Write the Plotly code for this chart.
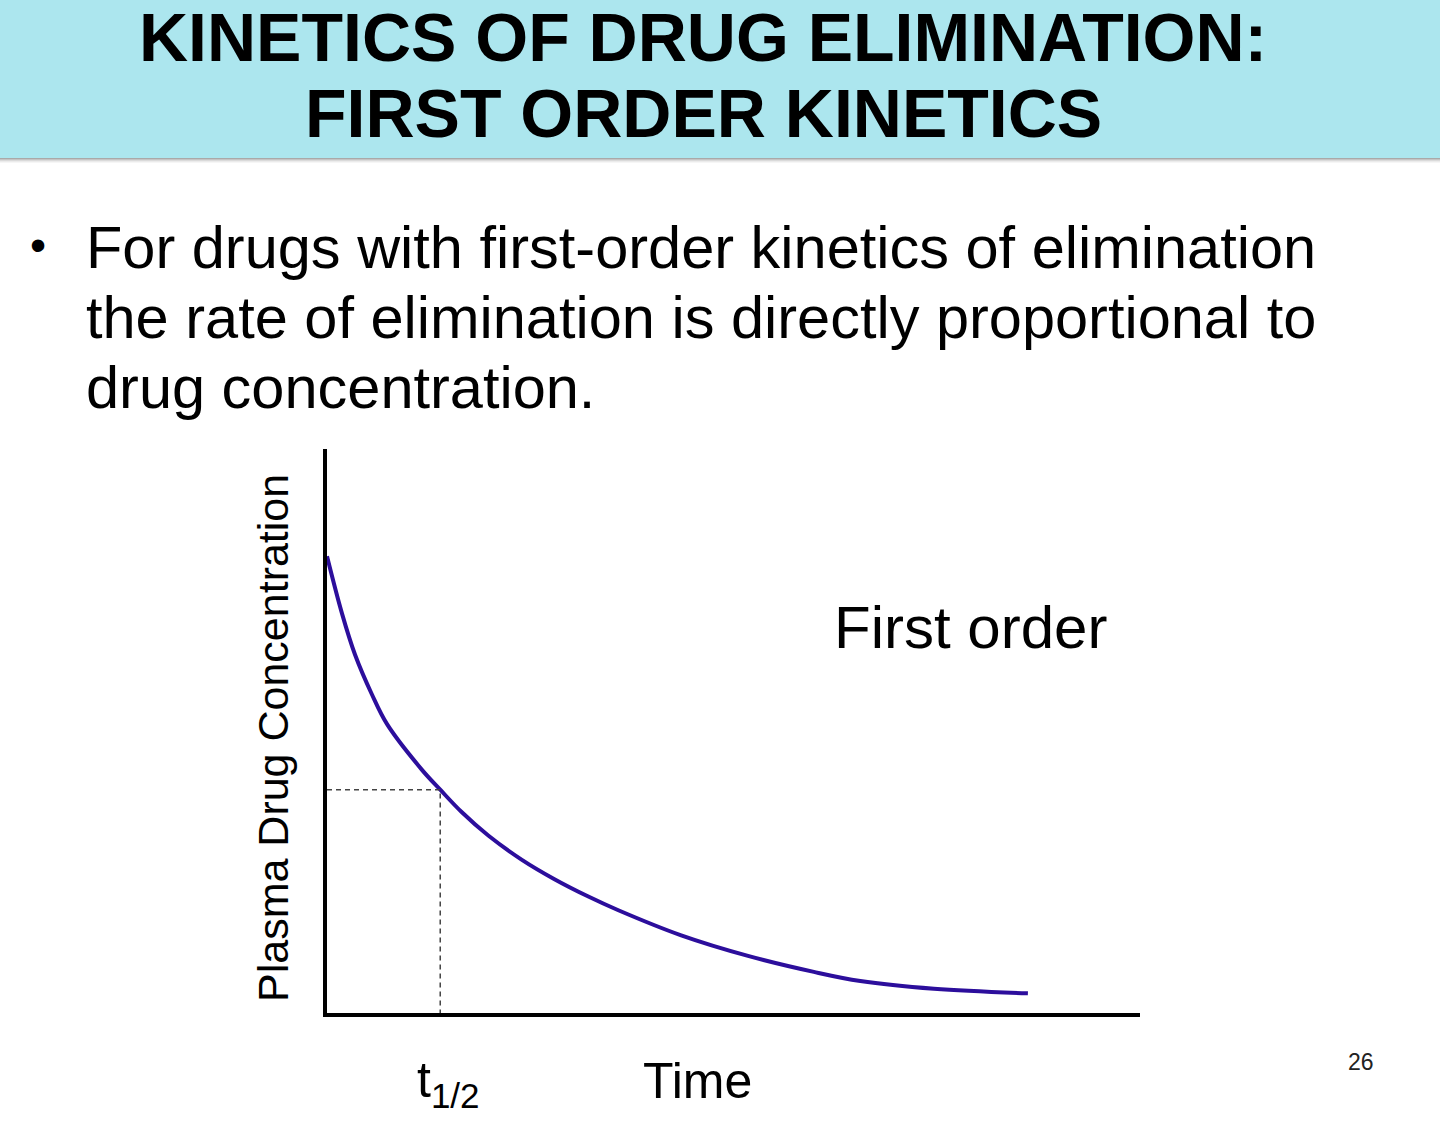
import plotly.graph_objects as go

# ---- data ----
time_vals = [0.0, 0.132, 0.247, 0.396, 0.529, 0.837, 1.0, 1.189, 1.427, 1.718, 2.009, 2.308, 2.573,
             3.128, 3.718, 4.30, 4.71, 5.36, 6.19]
conc_vals = [100.0, 87.5, 78.5, 69.8, 63.3, 53.3, 48.9, 44.0, 38.8, 33.6, 29.3, 25.5, 22.5,
             17.0, 12.5, 9.0, 7.0, 5.3, 4.3]
t_half = 1.0
c_half = 48.9
x_range = [0, 7.18]
y_range = [0, 123.5]

title_lines = ["KINETICS OF DRUG ELIMINATION:", "FIRST ORDER KINETICS"]
bullet_lines = [
    "For drugs with first-order kinetics of elimination",
    "the rate of elimination is directly proportional to",
    "drug concentration.",
]

W, H = 1440, 1123
FONT = "Liberation Sans, Arial, sans-serif"


def px(x):
    return x / W


def py(y):
    return 1 - y / H


fig = go.Figure()

fig.add_trace(go.Scatter(
    x=time_vals, y=conc_vals, mode="lines",
    line=dict(color="#2c0e9c", width=4, shape="spline", smoothing=1.0),
    hoverinfo="skip", showlegend=False,
))
fig.add_trace(go.Scatter(
    x=[0, t_half, t_half], y=[c_half, c_half, 0], mode="lines",
    line=dict(color="#444444", width=1.5, dash="5px,4px"),
    hoverinfo="skip", showlegend=False,
))

shapes = [
    dict(type="rect", xref="paper", yref="paper", x0=0, x1=1, y0=py(158), y1=1,
         fillcolor="#ace6ee", line=dict(width=0), layer="below"),
]
for i, c in enumerate(["#a9a9a9", "#c4c4c4", "#dadada", "#ebebeb", "#f6f6f6"]):
    shapes.append(dict(type="rect", xref="paper", yref="paper", x0=0, x1=1,
                       y0=py(159 + i), y1=py(158 + i), fillcolor=c, line=dict(width=0), layer="below"))

annotations = []
title_y = [37, 113]
for txt, yy in zip(title_lines, title_y):
    annotations.append(dict(text="<b>" + txt + "</b>", x=px(703), y=py(yy), xref="paper", yref="paper",
                            xanchor="center", yanchor="middle", showarrow=False,
                            font=dict(family=FONT, size=68, color="#000000")))

annotations.append(dict(text="•", x=px(38), y=py(245), xref="paper", yref="paper",
                        xanchor="center", yanchor="middle", showarrow=False,
                        font=dict(family=FONT, size=46, color="#000000")))
for txt, yy in zip(bullet_lines, [247, 317, 387]):
    annotations.append(dict(text=txt, x=px(84), y=py(yy), xref="paper", yref="paper",
                            xanchor="left", yanchor="middle", showarrow=False,
                            font=dict(family=FONT, size=59.5, color="#000000")))

annotations += [
    dict(text="First order", x=px(970), y=py(627), xref="paper", yref="paper",
         xanchor="center", yanchor="middle", showarrow=False,
         font=dict(family=FONT, size=60, color="#000000")),
    dict(text="Plasma Drug Concentration", x=px(273), y=py(738), xref="paper", yref="paper",
         xanchor="center", yanchor="middle", textangle=-90, showarrow=False,
         font=dict(family=FONT, size=43, color="#000000")),
    dict(text="Time", x=px(697), y=py(1081), xref="paper", yref="paper",
         xanchor="center", yanchor="middle", showarrow=False,
         font=dict(family=FONT, size=50, color="#000000")),
    dict(text="t<sub>1/2</sub>", x=px(448), y=py(1083), xref="paper", yref="paper",
         xanchor="center", yanchor="middle", showarrow=False,
         font=dict(family=FONT, size=50, color="#000000")),
    dict(text="26", x=px(1361), y=py(1062), xref="paper", yref="paper",
         xanchor="center", yanchor="middle", showarrow=False,
         font=dict(family=FONT, size=23, color="#222222")),
]

fig.update_layout(
    width=W, height=H,
    margin=dict(l=0, r=0, t=0, b=0),
    paper_bgcolor="white", plot_bgcolor="white",
    shapes=shapes, annotations=annotations,
    xaxis=dict(domain=[px(327), px(1140)], range=x_range, showgrid=False, zeroline=False,
               showticklabels=False, ticks="", showline=True, linecolor="black", linewidth=4),
    yaxis=dict(domain=[py(1013), py(449)], range=y_range, showgrid=False, zeroline=False,
               showticklabels=False, ticks="", showline=True, linecolor="black", linewidth=4),
)

fig.write_html(
    "out.html",
    config={"displayModeBar": False},
    post_script="document.body.style.margin='0';document.body.style.padding='0';"
                "document.body.style.overflow='hidden';",
)
